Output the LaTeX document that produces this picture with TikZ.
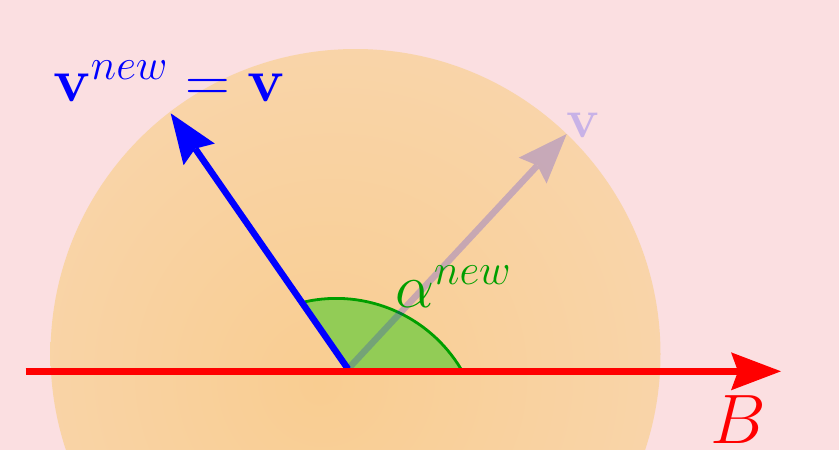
\RequirePackage{fix-cm}
\documentclass[tikz,border=0pt]{standalone}
\usetikzlibrary{arrows.meta}
\definecolor{bgpink}{RGB}{251,223,225}
\definecolor{discin}{RGB}{249,205,145}
\definecolor{discout}{RGB}{249,219,190}
\definecolor{sectorgreen}{RGB}{146,204,86}
\definecolor{arcgreen}{RGB}{0,158,0}
\pgfdeclareradialshading{discshade}{\pgfpoint{-3bp}{-2.5bp}}{color(0bp)=(discin); color(50bp)=(discout)}
\begin{document}
\begin{tikzpicture}[x=1pt,y=1pt,
  bigtip/.style={-{Stealth[length=50pt,width=38pt,inset=7pt,line width=0pt]}},
  veclabel/.style={inner sep=0pt, anchor=base west}]
\useasboundingbox (0,0) rectangle (839,-450);
\clip (0,0) rectangle (839,-450);
\fill[bgpink] (0,0) rectangle (839,-450);
\shade[shading=discshade] (355.5,-354) circle[radius=305];
\coordinate (V) at (348,-369);
\coordinate (C) at (461,-369);
\coordinate (Ltip) at (170.7,-113.3);
\coordinate (Rtip) at (566.7,-134);
\coordinate (Bstart) at (25.7,-371.3);
\coordinate (Bend) at (781,-371.3);
\fill[sectorgreen] (V) -- (C) arc[start angle=31,end angle=104,radius=145.6] -- cycle;
\draw[arcgreen, line width=2.8pt] (C) arc[start angle=31,end angle=102.5,radius=145.6];
\begin{scope}[transparency group, opacity=0.2]
\draw[blue, line width=6.5pt, bigtip] (V) -- (Rtip);
\end{scope}
\draw[blue, line width=6.5pt, bigtip] (V) -- (Ltip);
\draw[red, line width=7.6pt, bigtip] (Bstart) -- (Bend);
\node[veclabel, text=blue, font=\fontsize{62}{70}\selectfont] (lblnew) at (53,-101.7) {$\mathbf{v}^{new}=\mathbf{v}$};
\node[veclabel, text=blue, text opacity=0.2, font=\fontsize{55}{62}\selectfont] (lblold) at (566.5,-137) {$\mathbf{v}$};
\node[veclabel, text=arcgreen, font=\fontsize{62}{70}\selectfont] (lblalpha) at (395,-307) {$\alpha^{new}$};
\node[veclabel, text=red, font=\fontsize{70}{80}\selectfont] (lblB) at (710,-443) {$B$};
\end{tikzpicture}
\end{document}
